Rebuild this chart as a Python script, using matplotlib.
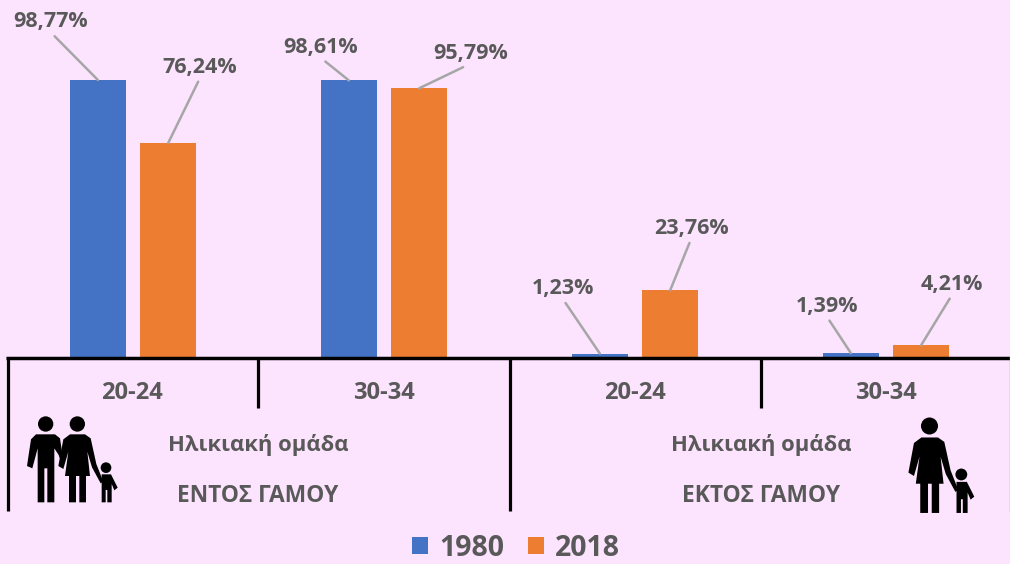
import matplotlib
matplotlib.use("Agg")
import matplotlib.pyplot as plt
from matplotlib.patches import Circle, Polygon

# =====================================
# DATA
# =====================================

groups = ["20-24", "30-34", "20-24", "30-34"]
values_1980 = [98.77, 98.61, 1.23, 1.39]
values_2018 = [76.24, 95.79, 23.76, 4.21]
labels_1980 = ["98,77%", "98,61%", "1,23%", "1,39%"]
labels_2018 = ["76,24%", "95,79%", "23,76%", "4,21%"]

age_title = "Ηλικιακή ομάδα"
status_names = ["ΕΝΤΟΣ ΓΑΜΟΥ", "ΕΚΤΟΣ ΓΑΜΟΥ"]

# label offsets from the top centre of each bar, in pixels
offsets_1980 = [(-47, 58), (-28, 33), (-37, 65), (-24, 47)]
offsets_2018 = [(32, 76), (51, 35), (21, 62), (31, 61)]

BG = "#FDE4FE"
BLUE = "#4472C4"
ORANGE = "#ED7D31"
TEXT = "#595959"
LEADER = "#A6A6A6"

plt.rcParams["font.family"] = ["Open Sans", "DejaVu Sans"]

W, H = 1010, 564
fig = plt.figure(figsize=(W / 100, H / 100), dpi=100, facecolor=BG)

# =====================================
# BARS
# =====================================

ax = fig.add_axes([7.5 / W, (H - 357) / H, 1004 / W, 357 / H])
ax.set_facecolor("none")
ax.set_xlim(-0.5, 3.5)
ax.set_ylim(0, 357 / 2.805)
ax.axis("off")

x = list(range(len(groups)))
bars_1980 = ax.bar([i - 0.14 for i in x], values_1980, width=0.222, color=BLUE, label="1980")
bars_2018 = ax.bar([i + 0.14 for i in x], values_2018, width=0.222, color=ORANGE, label="2018")


def add_labels(bars, labels, offsets):
    for bar, label, offset in zip(bars, labels, offsets):
        ax.annotate(
            label,
            xy=(bar.get_x() + bar.get_width() / 2, bar.get_height()),
            xytext=(offset[0] * 0.72, offset[1] * 0.72),
            textcoords="offset points",
            ha="center",
            va="center",
            fontsize=15.5,
            fontweight="bold",
            color=TEXT,
            arrowprops=dict(
                arrowstyle="-",
                color=LEADER,
                lw=1.8,
                shrinkA=1,
                shrinkB=0,
                relpos=(0.5, 0),
            ),
            annotation_clip=False,
        )


add_labels(bars_1980, labels_1980, offsets_1980)
add_labels(bars_2018, labels_2018, offsets_2018)

# =====================================
# CATEGORY TABLE UNDER THE BARS
# =====================================

over = fig.add_axes([0, 0, 1, 1])
over.set_facecolor("none")
over.set_xlim(0, W)
over.set_ylim(H, 0)
over.axis("off")

over.plot([6, W], [357.5, 357.5], color="black", lw=2.5, solid_capstyle="butt")
for px, bottom in [(7.5, 511), (258, 408), (509.5, 511), (760.5, 408)]:
    over.plot([px, px], [357, bottom], color="black", lw=2.3, solid_capstyle="butt")
over.plot([1009.5, 1009.5], [357, 511], color=LEADER, lw=1)

for px, group in zip([132, 384, 635, 886], groups):
    over.text(px, 393, group, ha="center", va="center", fontsize=17, fontweight="bold", color=TEXT)

for px, status in zip([258, 761], status_names):
    over.text(px, 445, age_title, ha="center", va="center", fontsize=15.8, fontweight="bold", color=TEXT)
    over.text(px, 496, status, ha="center", va="center", fontsize=16.4, fontweight="bold", color=TEXT)

# =====================================
# ICONS
# =====================================

MAN = [(108, 283), (165, 283), (180, 295), (188, 350), (187, 378), (176, 345), (163, 325),
       (163, 487), (142, 487), (142, 385), (133, 385), (133, 487), (113, 487), (113, 325),
       (97, 385), (81, 378), (93, 298)]
WOMAN = [(210, 283), (255, 283), (272, 295), (289, 372), (310, 425), (302, 430), (276, 382),
         (262, 335), (270, 408), (258, 408), (258, 487), (238, 487), (238, 408), (228, 408),
         (228, 487), (207, 487), (207, 408), (195, 408), (205, 335), (190, 387), (175, 378),
         (190, 298)]
CHILD = [(305, 403), (333, 403), (353, 443), (343, 451), (335, 432), (335, 487), (322, 487),
         (322, 450), (317, 450), (317, 487), (305, 487)]


def draw_shape(points, origin, scale):
    pts = [(origin[0] + (px - origin[2]) * scale, origin[1] + (py - origin[3]) * scale) for px, py in points]
    over.add_patch(Polygon(pts, closed=True, facecolor="black", edgecolor="none"))


def draw_head(px, py, radius, origin, scale):
    over.add_patch(Circle((origin[0] + (px - origin[2]) * scale, origin[1] + (py - origin[3]) * scale),
                          radius * scale, facecolor="black", edgecolor="none"))


# family on the left, zoomed-in outline is 3x the final size
family = (0, 340, 0, 0)
draw_shape(MAN, family, 1 / 3)
draw_head(137, 252, 23, family, 1 / 3)
draw_shape(WOMAN, family, 1 / 3)
draw_head(232, 252, 23, family, 1 / 3)
draw_shape(CHILD, family, 1 / 3)
draw_head(318, 383, 16, family, 1 / 3)

# mother and child on the right
mother = (929.5, 426, 232, 252)
draw_shape(WOMAN, mother, 0.37)
draw_head(232, 252, 23, mother, 0.37)
draw_shape(CHILD, mother, 0.37)
draw_head(318, 383, 16, mother, 0.37)

# =====================================
# LEGEND
# =====================================

fig.legend(
    handles=[bars_1980, bars_2018],
    labels=["1980", "2018"],
    loc="center",
    bbox_to_anchor=(516 / W, (H - 548) / H),
    ncol=2,
    frameon=False,
    prop={"size": 20.5, "weight": "bold"},
    labelcolor=TEXT,
    handlelength=0.55,
    handleheight=0.55,
    handletextpad=0.4,
    columnspacing=0.85,
    borderpad=0,
    borderaxespad=0,
)

fig.savefig("out.png", dpi=100, facecolor=BG)
plt.close()
